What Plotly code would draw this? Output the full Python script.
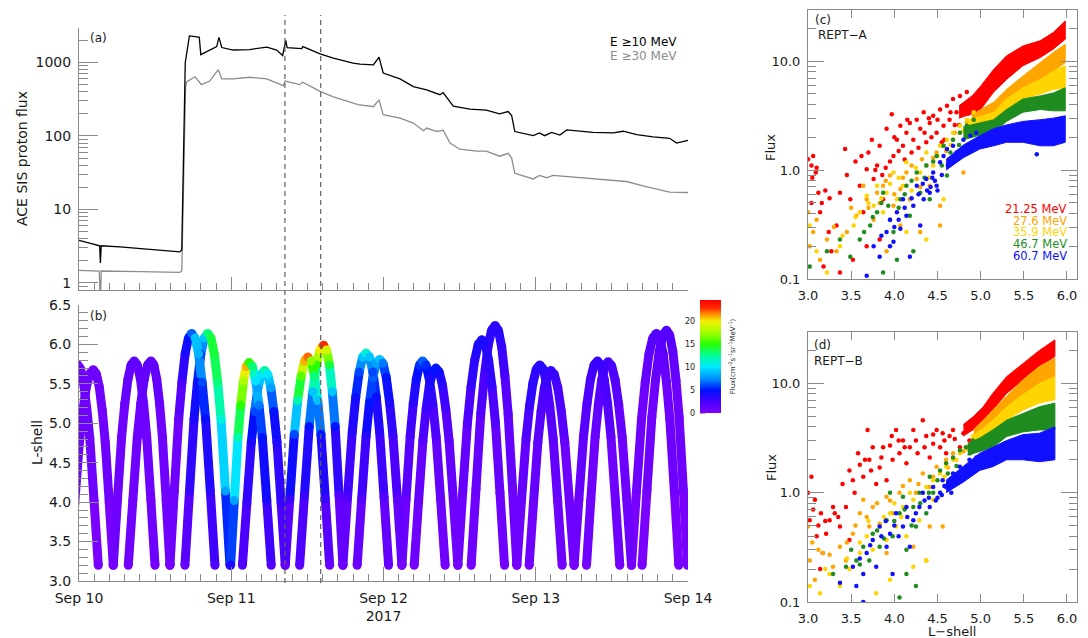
import plotly.graph_objects as go
from plotly.colors import sample_colorscale

# ---------------- data: panel (a) ACE SIS proton flux (hours after 2017-09-10 00:00 UT)
TIME_10 = [0, 2.8, 3.26, 3.37, 3.5, 6.46, 9.6, 12.8, 15.9, 16.2, 16.4, 16.75, 17.07, 17.4, 18.3, 18.96,
           19.2, 20.4, 21.7, 22.06, 22.5, 24.3, 26.9, 29.6, 31.15, 32.1, 32.6, 32.8, 35.1, 35.3, 38.0,
           40.1, 43.2, 44.3, 46.4, 47.3, 47.95, 50.6, 52.7, 54.8, 56.9, 57.4, 59.0, 61.6, 64.2, 66.3,
           67.65, 68.2, 68.7, 71.6, 72.6, 73.4, 74.5, 75.8, 76.9, 81.0, 84.2, 85.8, 87.9, 90.5, 93.1,
           94.2, 96.0]
FLUX_10 = [3.8, 3.3, 3.2, 1.86, 3.2, 3.1, 2.95, 2.8, 2.65, 2.8, 30, 1000, 1500, 2300, 2250, 2200,
           1280, 1450, 1650, 2200, 1600, 1480, 1500, 1620, 1480, 1250, 2000, 1600, 1550, 1650, 1310,
           1150, 980, 950, 930, 1180, 720, 600, 470, 425, 365, 390, 255, 232, 225, 200,
           215, 190, 115, 101, 110, 101, 112, 103, 121, 112, 110, 116, 104, 97, 93,
           80, 87]
TIME_30 = [0, 3.2, 3.37, 3.5, 9.6, 15.9, 16.2, 16.5, 16.8, 17.0, 17.75, 18.3, 19.3, 20.6, 21.95, 22.5,
           24.3, 26.9, 29.6, 32.2, 32.5, 34.8, 35.25, 38.0, 40.1, 44.0, 46.4, 47.3, 47.95, 50.6, 52.7,
           54.3, 54.8, 56.4, 57.4, 58.5, 60.0, 62.7, 64.2, 66.3, 67.65, 68.2, 68.7, 71.6, 72.6, 73.7,
           74.7, 76.9, 81.0, 84.2, 86.3, 88.9, 93.1, 96.0]
FLUX_30 = [1.48, 1.45, 0.5, 1.45, 1.42, 1.39, 1.45, 40, 470, 550, 600, 640, 500, 560, 800, 600,
           600, 630, 600, 485, 560, 500, 540, 405, 340, 268, 250, 310, 195, 175, 150,
           118, 128, 115, 120, 80, 66, 62, 62, 53, 58, 50, 31, 26, 29, 27,
           29, 28, 26, 25, 24, 21, 17.2, 17]
EVENT_HOURS = [32.46, 38.1]
DAY_HOURS = [0, 24, 48, 72, 96]
DAY_LABELS = ["Sep 10", "Sep 11", "Sep 12<br>2017", "Sep 13", "Sep 14"]

# ---------------- data: panel (b) Van Allen Probes L-shell tracks, one list per orbit arc
A_HOURS = [
    [-1.4, -0.67, 0.06, 0.61, 1.16, 1.70, 2.25, 2.72, 3.20, 3.67, 4.14, 4.77, 5.40],
    [7.77, 8.49, 9.20, 9.74, 10.28, 10.81, 11.35, 11.80, 12.25, 12.70, 13.14, 13.74, 14.34],
    [16.70, 17.42, 18.13, 18.67, 19.21, 19.74, 20.28, 20.81, 21.33, 21.86, 22.39, 23.09, 23.79],
    [25.76, 26.46, 27.16, 27.69, 28.21, 28.74, 29.26, 29.75, 30.24, 30.72, 31.21, 31.86, 32.51],
    [34.78, 35.54, 36.29, 36.86, 37.43, 37.99, 38.56, 39.02, 39.47, 39.93, 40.38, 40.99, 41.60],
    [43.85, 44.56, 45.26, 45.79, 46.32, 46.85, 47.38, 47.91, 48.44, 48.96, 49.49, 50.20, 50.90],
    [52.84, 53.52, 54.21, 54.72, 55.23, 55.75, 56.26, 56.78, 57.30, 57.82, 58.34, 59.03, 59.72],
    [61.82, 62.58, 63.33, 63.90, 64.47, 65.03, 65.60, 66.11, 66.63, 67.14, 67.65, 68.34, 69.02],
    [70.96, 71.64, 72.33, 72.84, 73.35, 73.87, 74.38, 74.93, 75.48, 76.03, 76.58, 77.32, 78.05],
    [80.00, 80.68, 81.36, 81.88, 82.39, 82.90, 83.41, 83.96, 84.51, 85.07, 85.62, 86.35, 87.09],
    [88.76, 89.53, 90.30, 90.88, 91.46, 92.03, 92.61, 93.11, 93.61, 94.10, 94.60, 95.27, 95.93],
]
A_LSHELL = [
    [3.2, 3.99, 4.76, 5.16, 5.46, 5.63, 5.68, 5.63, 5.46, 5.16, 4.76, 3.99, 3.2],
    [3.2, 4.03, 4.83, 5.25, 5.56, 5.74, 5.79, 5.74, 5.56, 5.25, 4.83, 4.03, 3.2],
    [3.2, 4.14, 5.05, 5.52, 5.88, 6.08, 6.14, 6.08, 5.88, 5.52, 5.05, 4.14, 3.2],
    [3.2, 3.99, 4.76, 5.15, 5.45, 5.62, 5.67, 5.62, 5.45, 5.15, 4.76, 3.99, 3.2],
    [3.2, 4.09, 4.96, 5.40, 5.74, 5.93, 5.99, 5.93, 5.74, 5.40, 4.96, 4.09, 3.2],
    [3.2, 4.04, 4.84, 5.26, 5.58, 5.76, 5.81, 5.76, 5.58, 5.26, 4.84, 4.04, 3.2],
    [3.2, 4.00, 4.78, 5.18, 5.48, 5.65, 5.70, 5.65, 5.48, 5.18, 4.78, 4.00, 3.2],
    [3.2, 4.17, 5.12, 5.60, 5.97, 6.18, 6.24, 6.18, 5.97, 5.60, 5.12, 4.17, 3.2],
    [3.2, 3.99, 4.76, 5.15, 5.45, 5.62, 5.67, 5.62, 5.45, 5.15, 4.76, 3.99, 3.2],
    [3.2, 4.03, 4.83, 5.24, 5.55, 5.73, 5.78, 5.73, 5.55, 5.24, 4.83, 4.03, 3.2],
    [3.2, 4.15, 5.08, 5.55, 5.91, 6.12, 6.18, 6.12, 5.91, 5.55, 5.08, 4.15, 3.2],
]
A_FLUX = [
    [0.5, 0.5, 0.6, 0.6, 0.7, 0.7, 0.7, 0.7, 0.7, 0.6, 0.6, 0.5, 0.5],
    [0.5, 0.6, 0.8, 1.0, 1.2, 1.3, 1.4, 1.3, 1.2, 1.0, 0.8, 0.6, 0.5],
    [1.0, 3.0, 4.0, 4.5, 6.0, 9.0, 13, 14, 14, 13, 11, 8, 3],
    [2, 3, 4, 6, 8, 10, 12, 10, 8, 5, 4, 3, 1.5],
    [1.5, 3, 5, 9, 15, 20, 23, 19, 14, 9, 5, 2, 0.8],
    [0.8, 2, 3.5, 5, 6.5, 8, 9, 7, 5, 4, 3, 1.5, 0.8],
    [0.5, 1, 2, 3, 4, 4.5, 5, 4.5, 3.5, 2.5, 1.5, 0.8, 0.5],
    [0.5, 1, 2, 2.5, 3, 3.5, 3.5, 3.5, 3, 2.5, 1.5, 0.8, 0.5],
    [0.5, 0.8, 1.5, 2, 2.5, 3, 3, 3, 2.5, 2, 1.2, 0.8, 0.5],
    [0.5, 0.7, 1, 1.5, 2, 2.5, 2.5, 2.5, 2, 1.5, 1, 0.7, 0.5],
    [0.4, 0.6, 0.8, 1, 1.5, 1.8, 2, 1.8, 1.5, 1, 0.8, 0.6, 0.4],
]
B_HOURS = [
    [-0.8, -0.3, 0.20, 0.70, 1.20, 1.70, 2.37, 3.04],
    [5.40, 6.06, 6.72, 7.22, 7.72, 8.21, 8.71, 9.20, 9.69, 10.18, 10.67, 11.33, 11.98],
    [14.34, 15.02, 15.71, 16.22, 16.73, 17.25, 17.76, 18.31, 18.86, 19.41, 19.96, 20.70, 21.43],
    [23.90, 24.48, 25.06, 25.50, 25.93, 26.37, 26.80, 27.33, 27.85, 28.38, 28.90, 29.60, 30.30],
    [32.51, 33.23, 33.94, 34.48, 35.02, 35.55, 36.09, 36.60, 37.12, 37.63, 38.14, 38.83, 39.51],
    [41.60, 42.33, 43.07, 43.62, 44.17, 44.72, 45.27, 45.80, 46.33, 46.86, 47.39, 48.09, 48.80],
    [50.90, 51.55, 52.20, 52.69, 53.18, 53.67, 54.16, 54.69, 55.23, 55.76, 56.30, 57.01, 57.72],
    [59.72, 60.48, 61.23, 61.80, 62.37, 62.93, 63.50, 64.04, 64.57, 65.11, 65.65, 66.36, 67.08],
    [69.02, 69.74, 70.47, 71.01, 71.55, 72.10, 72.64, 73.17, 73.70, 74.22, 74.75, 75.46, 76.16],
    [78.05, 78.79, 79.53, 80.08, 80.63, 81.19, 81.74, 82.27, 82.79, 83.32, 83.85, 84.55, 85.25],
    [87.09, 87.88, 88.67, 89.26, 89.85, 90.44, 91.03, 91.56, 92.09, 92.61, 93.14, 93.85, 94.55],
]
B_LSHELL = [
    [5.70, 5.75, 5.70, 5.52, 5.21, 4.81, 4.02, 3.2],
    [3.2, 4.03, 4.83, 5.25, 5.56, 5.74, 5.79, 5.74, 5.56, 5.25, 4.83, 4.03, 3.2],
    [3.2, 4.14, 5.05, 5.52, 5.88, 6.08, 6.14, 6.08, 5.88, 5.52, 5.05, 4.14, 3.2],
    [3.2, 4.02, 4.82, 5.23, 5.54, 5.72, 5.77, 5.72, 5.54, 5.23, 4.82, 4.02, 3.2],
    [3.2, 4.04, 4.86, 5.29, 5.60, 5.79, 5.84, 5.79, 5.60, 5.29, 4.86, 4.04, 3.2],
    [3.2, 4.06, 4.89, 5.33, 5.65, 5.84, 5.89, 5.84, 5.65, 5.33, 4.89, 4.06, 3.2],
    [3.2, 4.03, 4.83, 5.25, 5.56, 5.74, 5.79, 5.74, 5.56, 5.25, 4.83, 4.03, 3.2],
    [3.2, 4.12, 5.00, 5.46, 5.80, 6.00, 6.06, 6.00, 5.80, 5.46, 5.00, 4.12, 3.2],
    [3.2, 4.01, 4.80, 5.21, 5.51, 5.69, 5.74, 5.69, 5.51, 5.21, 4.80, 4.01, 3.2],
    [3.2, 4.03, 4.83, 5.25, 5.56, 5.74, 5.79, 5.74, 5.56, 5.25, 4.83, 4.03, 3.2],
    [3.2, 4.14, 5.05, 5.52, 5.88, 6.08, 6.14, 6.08, 5.88, 5.52, 5.05, 4.14, 3.2],
]
B_FLUX = [
    [0.7, 0.7, 0.7, 0.7, 0.6, 0.6, 0.5, 0.5],
    [0.5, 0.6, 0.8, 1.0, 1.2, 1.3, 1.4, 1.3, 1.2, 1.0, 0.8, 0.6, 0.5],
    [0.5, 0.8, 1.2, 2.5, 4, 5, 6.5, 9, 8.5, 6, 4.5, 3.5, 2],
    [4, 8, 12, 15, 18, 21, 15, 13, 10, 7, 5, 4, 2],
    [1, 3, 6, 12, 16, 21, 22, 17, 13, 9, 5, 3, 1],
    [0.8, 2, 3.5, 4.5, 6, 9, 11, 9, 6, 4.5, 3.5, 2, 1],
    [0.5, 1, 2.5, 3.5, 4.5, 5.5, 6.5, 5.5, 4, 3, 2, 1, 0.5],
    [0.5, 1, 2, 3, 3.5, 4, 4, 4, 3.5, 3, 2, 1, 0.5],
    [0.5, 1, 2, 3, 3.5, 3.5, 3.5, 3.5, 3, 2, 1.5, 0.8, 0.5],
    [0.5, 0.8, 1.5, 2, 2.5, 3, 3, 3, 2.5, 2, 1.2, 0.8, 0.5],
    [0.4, 0.6, 0.8, 1, 1.5, 1.8, 2, 1.8, 1.5, 1, 0.8, 0.6, 0.4],
]
FLUX_MAX = 24.6
CBAR_TICKS = [0, 5, 10, 15, 20]

# ---------------- data: panels (c)/(d) REPT flux vs L-shell
ENERGY_LABELS = ["21.25 MeV", "27.6 MeV", "35.9 MeV", "46.7 MeV", "60.7 MeV"]
ENERGY_COLORS = ["#ff0000", "#ffa500", "#ffd400", "#1f8c1f", "#1010ff"]

C_RED_L = [3.0, 3.04, 3.06, 3.09, 3.12, 3.16, 3.20, 3.04, 3.14, 3.24, 3.27, 3.33, 3.37, 3.43, 3.49, 3.52,
           3.60, 3.62, 3.64, 3.68, 3.74, 3.76, 3.80, 3.83, 3.87, 3.91, 3.97, 3.99, 4.03, 4.07, 4.10,
           4.14, 4.18, 4.22, 4.26, 4.30, 4.34, 4.37, 4.41, 4.45, 4.49, 4.53, 4.57, 4.61, 4.64, 4.68,
           4.72, 4.76, 4.80, 4.84, 4.88, 3.83, 3.68, 3.18, 3.37,
           3.78, 3.86, 3.95, 4.05, 4.12, 4.28, 4.43, 4.58, 4.70, 4.86,
           3.05, 3.10, 3.25, 3.45, 3.55, 3.70, 3.90, 4.00, 4.15, 4.20, 4.35, 4.40, 4.50, 4.55, 4.65,
           4.75, 4.90, 4.95]
C_RED_F = [1.26, 1.1, 1.35, 0.95, 0.62, 0.5, 0.65, 0.5, 0.41, 0.27, 0.18, 0.31, 0.62, 1.56, 0.54, 0.15,
           0.72, 1.35, 0.41, 1.02, 1.9, 0.83, 1.1, 1.67, 0.54, 2.4, 3.26, 1.35, 1.9, 2.55, 1.67,
           2.2, 2.7, 1.9, 2.9, 2.4, 3.4, 1.8, 2.7, 3.15, 2.2, 3.6, 2.55, 3.9, 2.9, 4.5,
           3.4, 4.8, 3.9, 5.2, 4.2, 0.23, 0.2, 0.13, 0.115,
           1.0, 0.9, 1.2, 1.5, 1.25, 1.6, 2.0, 1.9, 2.6, 3.3,
           0.85, 1.05, 0.55, 0.9, 1.2, 1.45, 1.05, 2.0, 2.9, 1.45, 2.2, 3.0, 2.9, 1.8, 3.4,
           2.6, 3.6, 4.3]
C_ORG_L = [3.0, 3.02, 3.06, 3.14, 3.22, 3.33, 3.45, 3.56, 3.64, 3.68, 3.76, 3.83, 3.87, 3.95, 3.99,
           4.07, 4.14, 4.18, 4.26, 4.32, 4.37, 4.41, 4.49, 4.53, 4.57, 4.63, 4.68, 4.76, 4.80, 4.84,
           4.92, 3.91, 4.07, 4.30, 4.53,
           3.10, 3.30, 3.50, 3.70, 3.80, 3.90, 4.00, 4.10, 4.20, 4.30, 4.45, 4.60, 4.70, 4.85]
C_ORG_F = [0.41, 0.2, 0.27, 0.15, 0.23, 0.18, 0.27, 0.38, 0.72, 0.54, 0.35, 0.5, 0.72, 0.89, 0.47,
           0.67, 0.95, 0.54, 0.83, 1.26, 1.1, 0.72, 1.45, 0.47, 1.67, 1.26, 1.9, 2.2, 0.95, 2.7,
           3.15, 0.18, 0.31, 0.27, 0.31,
           0.35, 0.3, 0.45, 0.45, 0.62, 0.8, 0.6, 0.85, 1.1, 0.7, 1.3, 1.5, 2.2, 2.4]
C_YEL_L = [3.02, 3.10, 3.22, 3.37, 3.53, 3.60, 3.68, 3.76, 3.80, 3.87, 3.91, 3.99, 4.03, 4.10, 4.14,
           4.22, 4.30, 4.37, 4.45, 4.53, 4.61, 4.68, 4.76, 4.84, 4.92, 4.14, 4.37, 4.57,
           3.40, 3.55, 3.70, 3.85, 3.95, 4.05, 4.20, 4.25, 4.40, 4.50, 4.65, 4.80]
C_YEL_F = [0.31, 0.18, 0.115, 0.2, 0.31, 0.41, 0.58, 0.47, 0.72, 0.41, 0.62, 0.95, 0.54, 0.72, 1.18,
           0.47, 0.95, 1.45, 1.1, 1.67, 1.9, 2.2, 2.55, 2.9, 3.4, 0.27, 0.23, 0.54,
           0.25, 0.37, 0.5, 0.55, 0.75, 0.85, 0.65, 1.05, 0.85, 1.35, 1.7, 2.3]
C_GRN_L = [3.02, 3.22, 3.37, 3.49, 3.60, 3.72, 3.80, 3.87, 3.93, 3.99, 4.07, 4.14, 4.18, 4.26, 4.30,
           4.37, 4.41, 4.49, 4.57, 4.61, 4.68, 4.76, 4.84, 4.92, 3.87, 4.03, 4.22,
           3.65, 3.75, 3.85, 3.95, 4.05, 4.12, 4.20, 4.35, 4.45, 4.55, 4.65, 4.75, 4.88]
C_GRN_F = [0.13, 0.18, 0.23, 0.16, 0.23, 0.31, 0.41, 0.62, 0.47, 0.27, 0.54, 0.72, 0.38, 0.95, 0.62,
           1.1, 0.54, 1.35, 1.67, 0.89, 1.9, 2.2, 2.55, 2.9, 0.115, 0.15, 0.18,
           0.27, 0.37, 0.5, 0.35, 0.45, 0.6, 0.8, 0.85, 1.2, 1.1, 1.45, 1.7, 2.2]
C_BLU_L = [3.68, 3.76, 3.83, 3.91, 3.95, 3.99, 4.03, 4.07, 4.10, 4.14, 4.18, 4.22, 4.26, 4.30, 4.34,
           4.37, 4.41, 4.45, 4.49, 4.53, 4.57, 4.61, 4.68, 4.72, 4.80, 4.88, 4.95, 5.65,
           4.42, 4.47, 4.50, 4.55, 4.62, 4.66, 4.75,
           3.85, 3.95, 4.00, 4.05, 4.12, 4.20, 4.28, 4.33, 4.38, 4.44]
C_BLU_F = [0.107, 0.2, 0.16, 0.27, 0.35, 0.22, 0.41, 0.29, 0.54, 0.38, 0.16, 0.47, 0.72, 0.31, 0.54,
           0.83, 0.62, 0.95, 0.72, 1.18, 1.35, 1.56, 1.67, 1.45, 1.9, 2.07, 2.2, 1.4,
           0.7, 0.8, 0.65, 0.9, 1.1, 1.25, 1.5,
           0.25, 0.2, 0.3, 0.35, 0.45, 0.55, 0.6, 0.75, 0.65, 0.85]
# dense high-L bands (L node, lower flux, upper flux)
C_RED_BAND = ([4.75, 4.9, 5.0, 5.15, 5.30, 5.49, 5.69, 5.84, 5.98],
              [3.0, 3.3, 3.6, 5.2, 6.8, 9.1, 10.8, 12.9, 15.9],
              [3.9, 4.8, 5.9, 8.4, 11.2, 13.8, 15.4, 18.3, 23.4])
C_ORG_BAND = ([4.9, 5.0, 5.15, 5.30, 5.49, 5.69, 5.84, 5.98],
              [2.6, 2.8, 3.15, 4.2, 5.5, 6.8, 8.1, 9.7],
              [3.2, 3.6, 4.2, 5.5, 7.3, 9.7, 12.0, 14.3])
C_YEL_BAND = ([4.85, 5.0, 5.15, 5.30, 5.49, 5.69, 5.84, 5.98],
              [2.3, 2.5, 2.7, 3.6, 4.5, 5.0, 5.5, 5.7],
              [2.9, 3.1, 3.4, 4.5, 5.7, 6.8, 8.1, 9.1])
C_GRN_BAND = ([4.8, 5.0, 5.15, 5.30, 5.49, 5.69, 5.84, 5.98],
              [1.9, 2.1, 2.2, 2.8, 3.4, 3.6, 3.5, 3.5],
              [2.5, 2.7, 2.9, 3.6, 4.5, 4.8, 5.1, 5.7])
C_BLU_BAND = ([4.6, 4.8, 4.99, 5.15, 5.30, 5.49, 5.69, 5.84, 5.98],
              [1.0, 1.3, 1.56, 1.67, 1.8, 1.8, 1.67, 1.67, 1.8],
              [1.25, 1.7, 2.07, 2.4, 2.6, 2.8, 2.9, 3.0, 3.15])

D_RED_L = [3.0, 3.02, 3.04, 3.08, 3.10, 3.15, 3.21, 3.25, 3.31, 3.37, 3.44, 3.48, 3.54, 3.58, 3.64, 3.69,
           3.71, 3.75, 3.79, 3.83, 3.87, 3.91, 3.97, 3.98, 4.02, 4.06, 4.10, 4.14, 4.18, 4.22, 4.27,
           4.33, 4.37, 4.41, 4.45, 4.49, 4.53, 4.56, 4.60, 4.64, 4.68, 4.76, 4.80, 4.87, 4.91, 4.99,
           3.17, 3.14, 3.48, 3.29,
           3.06, 3.12, 3.20, 3.35, 3.40, 3.52, 3.60, 3.66, 3.73, 3.85, 3.95, 4.05, 4.12, 4.25, 4.35,
           4.45, 4.58, 4.70, 4.85]
D_RED_F = [1.0, 0.56, 1.4, 0.86, 0.4, 0.65, 0.42, 0.56, 0.65, 0.49, 0.74, 1.6, 1.0, 2.3, 1.4, 3.75,
           2.0, 2.6, 1.2, 1.7, 2.6, 1.3, 3.3, 2.0, 3.75, 2.3, 3.0, 1.86, 2.6, 3.75, 2.3,
           4.6, 3.3, 2.1, 2.8, 3.75, 2.6, 3.5, 2.3, 3.3, 3.75, 2.6, 3.5, 3.0, 4.0, 4.6,
           0.28, 0.2, 0.37, 0.74,
           0.7, 0.5, 0.55, 0.6, 1.2, 1.3, 1.8, 2.0, 1.6, 2.1, 2.7, 3.0, 2.6, 3.0, 2.6,
           3.4, 3.0, 3.1, 3.8]
D_ORG_L = [3.0, 3.02, 3.08, 3.17, 3.29, 3.37, 3.44, 3.52, 3.60, 3.64, 3.71, 3.75, 3.83, 3.91, 3.98,
           4.06, 4.14, 4.18, 4.25, 4.33, 4.41, 4.49, 4.56, 4.60, 4.68, 4.76, 4.83, 4.91, 3.91, 4.22,
           4.37, 4.41,
           3.05, 3.12, 3.25, 3.45, 3.55, 3.68, 3.80, 3.95, 4.10, 4.28, 4.45, 4.62, 4.80]
D_ORG_F = [0.49, 0.24, 0.16, 0.28, 0.21, 0.32, 0.24, 0.42, 0.65, 0.86, 0.49, 0.74, 0.52, 0.92, 0.65,
           1.0, 0.74, 1.3, 1.0, 1.5, 1.13, 1.73, 0.49, 2.0, 2.3, 1.5, 2.6, 3.0, 0.28, 0.32,
           0.24, 0.49,
           0.35, 0.3, 0.27, 0.35, 0.5, 0.6, 0.8, 0.85, 1.15, 1.2, 1.4, 1.7, 2.4]
D_YEL_L = [3.02, 3.14, 3.25, 3.37, 3.48, 3.60, 3.68, 3.75, 3.83, 3.91, 3.95, 4.02, 4.10, 4.14, 4.22,
           4.29, 4.37, 4.45, 4.53, 4.60, 4.68, 4.76, 4.83, 4.91, 3.79, 3.95, 4.22, 4.37,
           3.20, 3.45, 3.60, 3.70, 3.88, 4.00, 4.08, 4.18, 4.33, 4.45, 4.58, 4.72, 4.85]
D_YEL_F = [0.14, 0.12, 0.18, 0.14, 0.2, 0.28, 0.4, 0.3, 0.49, 0.37, 0.65, 0.49, 0.74, 0.4, 0.86,
           0.56, 1.13, 0.86, 1.5, 1.73, 2.0, 2.3, 2.6, 3.3, 0.12, 0.16, 0.21, 0.24,
           0.2, 0.25, 0.35, 0.55, 0.6, 0.8, 0.6, 1.0, 1.0, 1.3, 1.4, 2.0, 2.5]
D_GRN_L = [3.29, 3.44, 3.56, 3.64, 3.71, 3.75, 3.83, 3.91, 3.95, 3.98, 4.06, 4.10, 4.14, 4.22, 4.25,
           4.29, 4.37, 4.41, 4.45, 4.53, 4.60, 4.68, 4.76, 4.83, 4.91, 4.25, 4.06, 4.14,
           3.50, 3.60, 3.80, 3.88, 4.00, 4.12, 4.20, 4.30, 4.40, 4.50, 4.62, 4.72, 4.88]
D_GRN_F = [0.18, 0.21, 0.24, 0.32, 0.24, 0.42, 0.32, 0.56, 1.0, 0.4, 0.65, 0.92, 0.3, 0.74, 0.49,
           1.0, 0.65, 1.4, 1.0, 1.6, 1.86, 2.1, 2.45, 2.6, 3.0, 0.14, 0.11, 0.18,
           0.3, 0.22, 0.45, 0.38, 0.55, 0.7, 0.5, 0.8, 1.0, 1.3, 1.5, 1.75, 2.3]
D_BLU_L = [3.37, 3.52, 3.56, 3.64, 3.68, 3.75, 3.79, 3.83, 3.91, 3.95, 3.98, 4.02, 4.10, 4.14, 4.18,
           4.22, 4.29, 4.33, 4.41, 4.45, 4.53, 4.56, 4.60, 4.68, 4.76, 4.87, 4.95, 3.64,
           4.48, 4.55, 4.62, 4.66, 4.72, 4.80,
           3.60, 3.72, 3.85, 3.90, 4.00, 4.05, 4.15, 4.25, 4.35, 4.40, 4.50, 4.58]
D_BLU_F = [0.15, 0.21, 0.14, 0.18, 0.28, 0.37, 0.21, 0.49, 0.32, 0.42, 0.18, 0.65, 0.49, 0.74, 0.32,
           0.56, 0.74, 1.0, 0.74, 1.13, 1.0, 1.3, 1.13, 1.5, 1.73, 2.0, 2.1, 0.1,
           0.85, 0.95, 1.2, 1.0, 1.35, 1.6,
           0.25, 0.33, 0.4, 0.55, 0.5, 0.4, 0.6, 0.65, 0.85, 0.9, 0.9, 1.15]
D_RED_BAND = ([4.8, 4.92, 5.03, 5.14, 5.30, 5.49, 5.68, 5.86],
              [3.3, 3.8, 4.6, 5.7, 8.1, 10.8, 14.3, 17.6],
              [4.2, 5.0, 6.1, 8.1, 11.5, 15.3, 20, 25])
D_ORG_BAND = ([4.92, 5.03, 5.14, 5.30, 5.49, 5.68, 5.86],
              [3.2, 3.7, 4.5, 5.7, 7.6, 9.7, 11.5],
              [3.8, 4.6, 5.7, 7.6, 10.8, 14.3, 17])
D_YEL_BAND = ([4.9, 5.03, 5.14, 5.30, 5.49, 5.68, 5.86],
              [2.8, 3.2, 3.75, 4.6, 5.7, 6.6, 7.1],
              [3.3, 3.9, 4.6, 6.1, 7.9, 10, 11.5])
D_GRN_BAND = ([4.85, 5.0, 5.14, 5.30, 5.49, 5.68, 5.86],
              [2.2, 2.4, 2.6, 3.26, 3.6, 3.75, 3.75],
              [2.8, 3.2, 3.75, 4.6, 5.3, 6.1, 6.6])
D_BLU_BAND = ([4.6, 4.8, 4.99, 5.14, 5.30, 5.49, 5.68, 5.86],
              [1.0, 1.25, 1.6, 1.73, 2.0, 2.0, 1.92, 2.0],
              [1.3, 1.75, 2.3, 2.6, 3.0, 3.4, 3.5, 4.0])

# ---------------- styling / geometry
W, H = 1088, 638
FONT = "DejaVu Sans"
AXC = "#8a8a8a"
TXT = "#1a1a1a"
GRAY_LINE = "#8c8c8c"
CSCALE = [
    [0.00, "rgb(128,0,255)"], [0.10, "rgb(72,0,255)"], [0.20, "rgb(0,16,255)"],
    [0.30, "rgb(0,140,255)"], [0.41, "rgb(0,232,255)"], [0.51, "rgb(0,255,150)"],
    [0.61, "rgb(40,255,0)"], [0.71, "rgb(160,255,0)"], [0.81, "rgb(240,240,0)"],
    [0.87, "rgb(255,150,0)"], [0.93, "rgb(255,40,0)"], [1.00, "rgb(255,0,0)"],
]


def px_x(x):
    return x / W


def px_y(y):
    return 1 - y / H


XA = [px_x(79), px_x(688)]
YA = [px_y(290), px_y(28)]
YB = [px_y(581), px_y(305)]
XC = [px_x(808), px_x(1077)]
YC = [px_y(279), px_y(10)]
YD = [px_y(602), px_y(332)]
CB_TOP, CB_BOT, CB_LEFT, CB_W = 300, 413, 700, 21

fig = go.Figure()

# ---- panel (a)
fig.add_trace(go.Scatter(x=TIME_30, y=FLUX_30, mode="lines", line=dict(color=GRAY_LINE, width=1.3),
                         xaxis="x", yaxis="y", hoverinfo="skip"))
fig.add_trace(go.Scatter(x=TIME_10, y=FLUX_10, mode="lines", line=dict(color="black", width=1.3),
                         xaxis="x", yaxis="y", hoverinfo="skip"))

# ---- panel (b): coloured track segments
NB = 48
groups = {}
for hours, lsh, flx in [(A_HOURS, A_LSHELL, A_FLUX), (B_HOURS, B_LSHELL, B_FLUX)]:
    for t, L, F in zip(hours, lsh, flx):
        for i in range(len(t) - 1):
            v = 0.5 * (F[i] + F[i + 1])
            b = min(NB - 1, int(v / FLUX_MAX * NB))
            gx, gy = groups.setdefault(b, ([], []))
            gx += [t[i], t[i + 1], None]
            gy += [L[i], L[i + 1], None]
for b in sorted(groups):
    gx, gy = groups[b]
    col = sample_colorscale(CSCALE, [(b + 0.5) / NB])[0]
    fig.add_trace(go.Scatter(x=gx, y=gy, mode="lines", line=dict(color=col, width=9),
                             xaxis="x2", yaxis="y2", hoverinfo="skip"))

all_t, all_L, all_F = [], [], []
for hours, lsh, flx in [(A_HOURS, A_LSHELL, A_FLUX), (B_HOURS, B_LSHELL, B_FLUX)]:
    for t, L, F in zip(hours, lsh, flx):
        all_t += t
        all_L += L
        all_F += F
fig.add_trace(go.Scatter(
    x=all_t, y=all_L, mode="markers", xaxis="x2", yaxis="y2", hoverinfo="skip",
    marker=dict(size=9, color=all_F, colorscale=CSCALE, cmin=0, cmax=FLUX_MAX, line=dict(width=0),
                showscale=True,
                colorbar=dict(x=px_x(CB_LEFT), xanchor="left", xpad=0, ypad=0,
                              y=px_y((CB_TOP + CB_BOT) / 2), yanchor="middle",
                              len=(CB_BOT - CB_TOP) / H, lenmode="fraction",
                              thickness=CB_W, thicknessmode="pixels", outlinewidth=0,
                              showticklabels=False, ticks="",
                              title=dict(text="Flux(cm<sup>-2</sup>s<sup>-1</sup>sr<sup>-1</sup>MeV<sup>-1</sup>)",
                                         side="right", font=dict(family=FONT, size=7, color=TXT))))))

# ---- panels (c) and (d)
def add_rept(bands, sparse, xa, ya):
    for (bl, blo, bhi), (sl, sf), col in zip(bands, sparse, ENERGY_COLORS):
        fig.add_trace(go.Scatter(x=list(bl) + list(bl)[::-1], y=list(bhi) + list(blo)[::-1],
                                 mode="lines", fill="toself", fillcolor=col, line=dict(color=col, width=1),
                                 xaxis=xa, yaxis=ya, hoverinfo="skip"))
        fig.add_trace(go.Scatter(x=sl, y=sf, mode="markers", marker=dict(color=col, size=4.5, line=dict(width=0)),
                                 xaxis=xa, yaxis=ya, hoverinfo="skip"))


add_rept([C_RED_BAND, C_ORG_BAND, C_YEL_BAND, C_GRN_BAND, C_BLU_BAND],
         [(C_RED_L, C_RED_F), (C_ORG_L, C_ORG_F), (C_YEL_L, C_YEL_F), (C_GRN_L, C_GRN_F), (C_BLU_L, C_BLU_F)],
         "x3", "y3")
add_rept([D_RED_BAND, D_ORG_BAND, D_YEL_BAND, D_GRN_BAND, D_BLU_BAND],
         [(D_RED_L, D_RED_F), (D_ORG_L, D_ORG_F), (D_YEL_L, D_YEL_F), (D_GRN_L, D_GRN_F), (D_BLU_L, D_BLU_F)],
         "x4", "y4")


def base_axis(size=14, **kw):
    d = dict(showgrid=False, zeroline=False, showline=True, linecolor=AXC, linewidth=1,
             ticks="inside", tickcolor=AXC, tickwidth=1, ticklabelstandoff=4, automargin=False,
             tickfont=dict(family=FONT, size=size, color=TXT))
    d.update(kw)
    return d


LOG_MINOR_A = [m * 10 ** e for e in range(-1, 4) for m in range(2, 10) if 0.8 <= m * 10 ** e <= 2950]
LOG_MINOR_C = [m * 10 ** e for e in range(-1, 2) for m in range(2, 10) if m * 10 ** e <= 29]
time_minor = dict(tickmode="linear", tick0=0, dtick=2.4, ticks="inside", ticklen=7, tickcolor=AXC)

fig.update_layout(
    width=W, height=H, margin=dict(l=0, r=0, t=0, b=0, autoexpand=False),
    paper_bgcolor="white", plot_bgcolor="white", showlegend=False,
    font=dict(family=FONT, color=TXT),
    xaxis=base_axis(domain=XA, anchor="y", range=[0, 96], tickmode="linear", tick0=0, dtick=24,
                    ticklen=13, showticklabels=False, minor=time_minor),
    yaxis=base_axis(domain=YA, anchor="x", type="log", range=[-0.097, 3.47], tickmode="array",
                    tickvals=[1, 10, 100, 1000], ticktext=["1", "10", "100", "1000"], ticklen=19,
                    minor=dict(tickmode="array", tickvals=LOG_MINOR_A, ticks="inside", ticklen=9, tickcolor=AXC)),
    xaxis2=base_axis(domain=XA, anchor="y2", range=[0, 96], tickmode="array", tickvals=DAY_HOURS,
                     ticktext=DAY_LABELS, ticklen=14, minor=time_minor),
    yaxis2=base_axis(domain=YB, anchor="x2", range=[3.0, 6.5], tickmode="linear", tick0=3, dtick=0.5,
                     tickformat=".1f", ticklen=19,
                     minor=dict(tickmode="linear", tick0=3, dtick=0.1, ticks="inside", ticklen=9, tickcolor=AXC)),
    xaxis3=base_axis(size=13, domain=XC, anchor="y3", range=[3.0, 6.116], tickmode="linear", tick0=3,
                     dtick=0.5, tickformat=".1f", ticklen=8, mirror="ticks"),
    yaxis3=base_axis(size=13, domain=YC, anchor="x3", type="log", range=[-1, 1.47], tickmode="array",
                     tickvals=[0.1, 1, 10], ticktext=["0.1", "1.0", "10.0"], ticklen=16, mirror="ticks",
                     minor=dict(tickmode="array", tickvals=LOG_MINOR_C, ticks="inside", ticklen=8, tickcolor=AXC)),
    xaxis4=base_axis(size=13, domain=XC, anchor="y4", range=[3.0, 6.116], tickmode="linear", tick0=3,
                     dtick=0.5, tickformat=".1f", ticklen=8, mirror="ticks"),
    yaxis4=base_axis(size=13, domain=YD, anchor="x4", type="log", range=[-1, 1.47], tickmode="array",
                     tickvals=[0.1, 1, 10], ticktext=["0.1", "1.0", "10.0"], ticklen=16, mirror="ticks",
                     minor=dict(tickmode="array", tickvals=LOG_MINOR_C, ticks="inside", ticklen=8, tickcolor=AXC)),
)

# event markers (dashed lines through panels a and b)
for h in EVENT_HOURS:
    fig.add_shape(type="line", xref="x", yref="paper", x0=h, x1=h, y0=px_y(583), y1=px_y(15),
                  line=dict(color="#606060", width=1.2, dash="5px,4px"))

# colorbar ticks and labels on its left side
cb_scale = (CB_BOT - CB_TOP) / FLUX_MAX
for v in range(0, 25):
    yv = CB_BOT - v * cb_scale
    fig.add_shape(type="line", xref="paper", yref="paper", x0=px_x(CB_LEFT), x1=px_x(CB_LEFT + (5 if v % 5 == 0 else 3)),
                  y0=px_y(yv), y1=px_y(yv), line=dict(color="#222", width=0.8))
for v in CBAR_TICKS:
    fig.add_annotation(x=px_x(CB_LEFT - 3), y=px_y(CB_BOT - v * cb_scale), xref="paper", yref="paper",
                       text=str(v), showarrow=False, xanchor="right", yanchor="middle",
                       font=dict(family=FONT, size=8, color=TXT))


def note(text, x, y, size=12, color=TXT, xanchor="left", angle=0):
    fig.add_annotation(x=px_x(x), y=px_y(y), xref="paper", yref="paper", text=text, showarrow=False,
                       xanchor=xanchor, yanchor="middle", textangle=angle,
                       font=dict(family=FONT, size=size, color=color))


note("(a)", 88, 38)
note("(b)", 88, 316)
note("E \u226510 MeV", 679, 42, color="black", xanchor="right")
note("E \u226530 MeV", 679, 56, color=GRAY_LINE, xanchor="right")
note("ACE SIS proton flux", 22, 159, size=14, xanchor="center", angle=-90)
note("L-shell", 37, 443, size=14, xanchor="center", angle=-90)
note("(c)", 813, 20)
note("REPT\u2212A", 816, 35)
note("(d)", 812, 345)
note("REPT\u2212B", 812, 361)
note("Flux", 770, 148, size=13, xanchor="center", angle=-90)
note("Flux", 771, 468, size=13, xanchor="center", angle=-90)
note("L\u2212shell", 952, 631, size=13, xanchor="center")
for lab, col, yy in zip(ENERGY_LABELS, ENERGY_COLORS, [209, 221, 232, 244, 256]):
    note(lab, 1069, yy, size=11.5, color=col, xanchor="right")

fig.write_html("out.html", config={"displayModeBar": False},
               post_script="document.body.style.margin='0px';")
